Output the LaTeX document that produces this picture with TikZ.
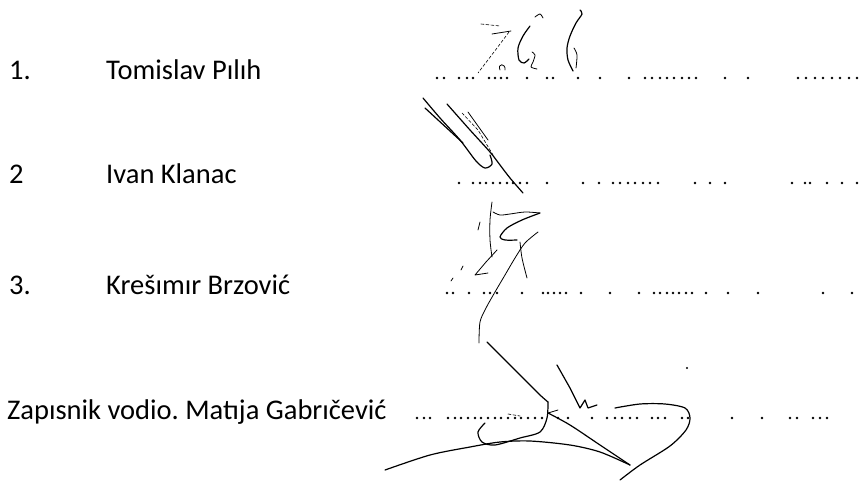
\documentclass[tikz,border=0pt]{standalone}
\usepackage{fontspec}
\setmainfont{Carlito}
\frenchspacing
\tikzset{
  lbl/.style={anchor=base west, inner sep=0pt, font=\fontsize{28.5}{34}\selectfont},
  sig/.style={line width=1.2pt, line cap=round, line join=round},
  sigthin/.style={line width=0.8pt, line cap=round, line join=round},
  sigfaint/.style={line width=0.6pt, line cap=round, dash pattern=on 3pt off 2pt}
}
\begin{document}
\begin{tikzpicture}[x=1pt,y=-1pt]
\useasboundingbox (0,0) rectangle (859,482);
\fill[white] (0,0) rectangle (859,482);
% texts
\node[lbl] (n1) at (9,79) {1.};
\node[lbl] (t1) at (106,79) {Tomislav Pılıh};
\node[lbl] (n2) at (9,183) {2};
\node[lbl] (t2) at (106,183) {Ivan Klanac};
\node[lbl] (n3) at (9,294) {3.};
\node[lbl] (t3) at (106,294) {Krešımır Brzović};
\node[lbl] (t4) at (7,419) {Zapısnik vodio.\ Matıja Gabrıčević};
% dotted lines
\foreach \x in {437,444,459,467,473,489,495,501,507,527,547,553,578,600,629,645,652,660,667,674,682,689,696,725,748,798,806,815,823,832,840,849,857}
  \fill (\x,78) circle (1.3);
\foreach \x in {459,473,480,486,493,500,507,513,520,527,547,583,599,613,620,628,635,643,650,658,695,710,725,792,805,810,827,842,857}
  \fill (\x,183) circle (1.3);
\foreach \x in {447,453,469,484,490,497,522,543,548,554,560,566,581,610,639,654,660,667,673,679,686,692,706,728,758,823,852}
  \fill (\x,293) circle (1.3);
\foreach \x in {417,424,430,448,455,461,468,475,481,488,495,501,508,515,521,528,535,542,558,568,592,607,615,622,630,637,652,658,665,682,688,732,762,790,797,813,820,827}
  \fill (\x,418) circle (1.3);
% signature 1
\draw[sigfaint] (481,24) -- (500,26);
\draw[sigthin] (492,34) -- (511,31);
\draw[sigfaint] (509,32) -- (494,52) -- (478,73);
\draw[sigthin] (500,70) .. controls (497,63) and (506,63) .. (505,70);
\draw[sig] plot[smooth] coordinates {(530,26) (523,36) (518,48) (519,60) (524,63) (529,59)};
\draw[sigthin] plot[smooth] coordinates {(535,17) (540,14) (543,18)};
\draw[sigthin] plot[smooth] coordinates {(532,52) (535,55) (533,62) (531,67) (537,69)};
\draw[sig] plot[smooth] coordinates {(580,10) (582,14) (576,23) (570,36) (567,48) (568,60) (573,71)};
\draw[sigthin] plot[smooth] coordinates {(574,48) (577,55) (576,68)};
% signature 2
\draw[sig] plot[smooth] coordinates {(423,98) (440,118) (460,140) (476,161) (485,168) (492,164) (490,155)};
\draw[sig] (425,108) -- (463,143);
\draw[sig] plot[smooth] coordinates {(447,104) (470,130) (490,152) (500,165) (510,178) (523,193)};
\draw[sigfaint] (462,113) -- (478,130) -- (493,155);
\draw[sigthin] (468,112) -- (488,140);
% signature 3
\draw[sigthin] plot[smooth] coordinates {(492,202) (490,220) (490,240) (492,257)};
\draw[sigthin] plot[smooth] coordinates {(493,212) (500,215) (510,214) (525,212) (540,213)};
\draw[sig] plot[smooth] coordinates {(540,213) (522,220) (507,228) (500,237) (505,240) (517,240)};
\draw[sigthin] plot coordinates {(497,250) (486,262) (475,275) (488,273)};
\draw[sigthin] plot[smooth] coordinates {(538,232) (525,243) (515,258) (505,275) (495,292) (486,308) (480,322) (479,343)};
\draw[sigthin] plot[smooth] coordinates {(520,242) (522,258) (527,278)};
\draw[sigthin] (480,222) -- (478,230);
\draw[sigthin] (463,266) -- (461,270);
\draw[sigthin] (453,278) -- (451,281);
% signature 4
\draw[sig] plot[smooth] coordinates {(487,342) (505,360) (525,380) (540,395) (548,402)};
\draw[sig] plot coordinates {(557,365) (570,388) (580,408) (585,400) (588,408) (597,405)};
\fill (687,368) circle (1.2);
\draw[sig] plot[smooth] coordinates {(615,408) (640,404) (665,404) (685,408) (690,418) (686,430) (670,446) (640,465) (620,480)};
\draw[sig] plot[smooth] coordinates {(548,402) (547,418) (540,432) (520,438) (495,445) (482,442) (478,432) (485,423)};
\draw[sig] plot[smooth] coordinates {(385,470) (430,455) (470,447) (500,442) (530,441) (570,445) (600,452) (630,465)};
\draw[sig] plot[smooth] coordinates {(548,413) (570,425) (600,445) (630,465)};
\draw[sigfaint] (508,414) -- (520,416);
\draw[sigthin] (548,413) -- (558,410);
\end{tikzpicture}
\end{document}
